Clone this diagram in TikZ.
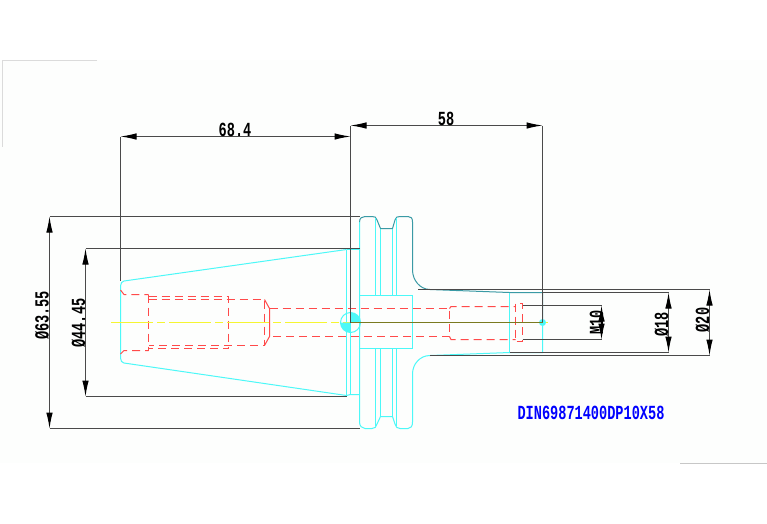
\documentclass[tikz,border=0pt]{standalone}
\usepackage{fontspec}
\setmonofont{Liberation Mono}
\usetikzlibrary{arrows.meta}
\definecolor{cy}{HTML}{4CF8F8}
\definecolor{tl}{HTML}{3A9AA5}
\definecolor{rd}{HTML}{FF4A4A}
\definecolor{yl}{HTML}{F5F532}
\definecolor{ol}{HTML}{7A7A20}
\definecolor{dm}{HTML}{4A4A4A}
\definecolor{bg}{HTML}{FDFEFD}
\newcommand{\cadtext}[1]{\scalebox{0.68}[1]{\fontsize{20}{20}\selectfont\ttfamily\bfseries #1}}
\tikzset{
  x=1pt,y=-1pt,
  cyl/.style={draw=cy,line width=1pt},
  teal line/.style={draw=tl,line width=1pt},
  hid/.style={draw=rd,line width=1pt,dash pattern=on 8pt off 5pt},
  ext/.style={draw=dm,line width=1pt},
  dimline/.style={draw=dm,line width=1pt,{Latex[length=16pt,width=6.5pt,black]}-{Latex[length=16pt,width=6.5pt,black]}},
  lab/.style={inner sep=0pt,text=black},
  labv/.style={lab,rotate=90},
  frameline/.style={draw=black!14,line width=1pt}
}
\begin{document}
\begin{tikzpicture}
\useasboundingbox (0,0) rectangle (767,523);
\fill[bg] (0,60) rectangle (767,463);
\draw[frameline] (97,60.5) -- (2.5,60.5) -- (2.5,147);
\draw[frameline,draw=black!22] (680,463.5) -- (767,463.5);

% taper
\draw[cyl] (346.5,249.5) -- (124,281) .. controls (122,281.5) and (120.5,283) .. (120.5,286) -- (120.5,358)
  .. controls (120.5,361) and (122,362.5) .. (124,363) -- (346.5,395.5) -- (350.5,394.5) -- (359.5,394.5);
\draw[cyl] (346.5,249.5) -- (346.5,395.5);
\draw[cyl] (350.5,249.5) -- (350.5,394.5);
\draw[cyl] (346.5,249.5) -- (359.5,249.5);

% flange lower half + left edge
\draw[cyl] (359.5,222) -- (359.5,422) .. controls (359.5,426) and (362,428.5) .. (365,428.5) -- (372,428.5)
  .. controls (375,428.5) and (376,427) .. (377,424) -- (380.5,416.5) -- (392.5,416.5) -- (395,424)
  .. controls (396,427) and (397,428.5) .. (400,428.5) -- (408,428.5)
  .. controls (411,428.5) and (412.5,426) .. (412.5,422) -- (412.5,374)
  .. controls (412.5,364) and (420,355.5) .. (430,355.5) -- (509.5,352.5) -- (542.5,352.5) -- (542.5,322);
% flange upper half
\draw[teal line] (359.5,222) .. controls (359.5,218) and (362,216.5) .. (365,216.5) -- (372,216.5)
  .. controls (375,216.5) and (376,217) .. (377,220) -- (380.5,228.5) -- (392.5,228.5) -- (395,220)
  .. controls (396,217) and (397,216.5) .. (400,216.5) -- (408,216.5)
  .. controls (411,216.5) and (412.5,218) .. (412.5,222) -- (412.5,270)
  .. controls (412.5,280) and (420,289.5) .. (430,289.5) -- (509.5,292.5) -- (542.5,292.5) -- (542.5,322);
\draw[cyl] (359.5,295.5) rectangle (412.5,348.5);
\foreach \xx/\ya/\yb in {375.5/218/295.5,380.5/228.5/295.5,392.5/228.5/295.5,396.5/218/295.5,375.5/348.5/426,380.5/348.5/416.5,392.5/348.5/416.5,396.5/348.5/426}
  \draw[cyl] (\xx,\ya) -- (\xx,\yb);
\draw[cyl] (509.5,292.5) -- (509.5,352.5);

% hidden lines
\draw[hid] (120.5,290) -- (124,294.5) -- (148.5,294.5);
\draw[hid] (120.5,354) -- (124,350.5) -- (148.5,350.5);
\draw[hid] (148.5,294.5) -- (148.5,350.5);
\draw[hid] (148.5,296.5) -- (228.5,296.5) -- (228.5,348.5) -- (148.5,348.5);
\draw[hid] (148.5,299.5) -- (264.5,299.5) -- (264.5,345.5) -- (148.5,345.5);
\draw[hid,dash pattern=on 20pt off 0pt] (264.5,299.5) -- (269.5,308.5) -- (269.5,336.5) -- (264.5,345.5);
\draw[hid] (269.5,308.5) -- (449.5,308.5) -- (449.5,336.5) -- (269.5,336.5);
\draw[hid] (449.5,308.5) -- (451,306.5) -- (515.5,306.5);
\draw[hid] (449.5,336.5) -- (451,339.5) -- (515.5,339.5);
\draw[hid] (515.5,303.5) rectangle (522.5,341.5);
\draw[hid] (522.5,305.5) -- (542,305.5);
\draw[hid] (522.5,339.5) -- (542,339.5);

% centre line
\draw[yl,line width=1pt,dash pattern=on 42pt off 4pt on 8pt off 4pt] (111,322.5) -- (350.5,322.5);
\draw[yl,line width=1pt] (542.5,322.5) -- (548,322.5);

% centre mark
\fill[cy] (350.5,322.5) -- (340.5,322.5) arc[start angle=180,end angle=90,radius=10] -- cycle;
\fill[cy] (350.5,322.5) -- (360.5,322.5) arc[start angle=0,end angle=-90,radius=10] -- cycle;
\draw[cyl] (350.5,322.5) circle[radius=10];
\fill[cy] (542.5,322.5) circle[radius=3.5];

% extension lines
\draw[ext] (49.5,216.5) -- (359.5,216.5);
\draw[ext] (85.5,248.5) -- (359.5,248.5);
\draw[ext] (85.5,396.5) -- (346.5,396.5);
\draw[ext] (49.5,428.5) -- (359.5,428.5);
\draw[ext] (120.5,136.5) -- (120.5,281);
\draw[ext] (350.5,125.5) -- (350.5,322.5);
\draw[ext] (542.5,125.5) -- (542.5,322.5);
\draw[draw=ol,line width=1pt] (350.5,322.5) -- (542.5,322.5);
\draw[ext] (418,289.5) -- (709.5,289.5);
\draw[ext] (430,355.5) -- (709.5,355.5);
\draw[ext] (542.5,292.5) -- (668.5,292.5);
\draw[ext] (509.5,352.5) -- (668.5,352.5);
\draw[ext] (522.5,305.5) -- (601.5,305.5);
\draw[ext] (522.5,339.5) -- (601.5,339.5);

% dimensions
\draw[dimline] (49.5,216.5) -- (49.5,428.5);
\draw[dimline] (85.5,248.5) -- (85.5,396.5);
\draw[dimline] (120.5,136.5) -- (350.5,136.5);
\draw[dimline] (350.5,125.5) -- (542.5,125.5);
\draw[dimline] (601.5,305.5) -- (601.5,339.5);
\draw[dimline] (668.5,292.5) -- (668.5,352.5);
\draw[dimline] (709.5,289.5) -- (709.5,355.5);

% labels
\node[labv] (d63) at (42,315.5) {\cadtext{Ø63.55}};
\node[labv] (d44) at (78.5,323) {\cadtext{Ø44.45}};
\node[lab] (l68) at (235,130) {\cadtext{68.4}};
\node[lab] (l58) at (446,118.5) {\cadtext{58}};
\node[labv] (m10) at (596.5,322.5) {\cadtext{M10}};
\node[labv] (d18) at (661.5,324.5) {\cadtext{Ø18}};
\node[labv] (d20) at (702.5,320) {\cadtext{Ø20}};
\node[lab,text=blue] (title) at (591,413) {\cadtext{DIN69871400DP10X58}};
\end{tikzpicture}
\end{document}
